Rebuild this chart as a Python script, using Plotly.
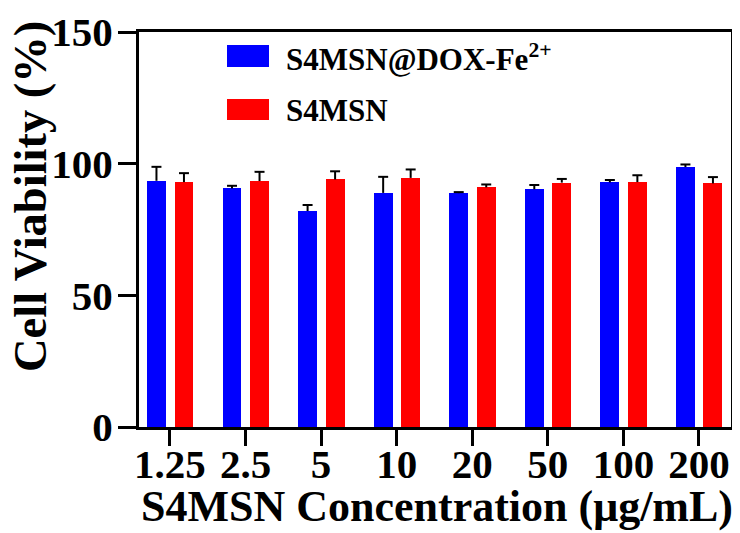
import plotly.graph_objects as go

# ---- data ----
categories = ["1.25", "2.5", "5", "10", "20", "50", "100", "200"]
dox_fe_values = [93.5, 90.6, 82.0, 88.9, 88.8, 90.3, 92.9, 98.7]
dox_fe_errors = [5.3, 1.0, 2.3, 6.1, 0.4, 1.6, 0.9, 1.0]
s4msn_values = [93.0, 93.4, 94.0, 94.6, 91.0, 92.8, 93.0, 92.5]
s4msn_errors = [3.4, 3.5, 3.1, 3.2, 1.1, 1.4, 2.6, 2.4]
series_names = ["S4MSN@DOX-Fe<sup>2+</sup>", "S4MSN"]
y_ticks = [0, 50, 100, 150]

# ---- layout geometry (page body adds an 8px offset) ----
OFF = 8
W, H = 732, 525
L, R, T, B = 131, 9, 24, 106
PW, PH = W - L - R, H - T - B
FONT = "Liberation Serif"
BLUE, RED = "#0000FF", "#FF0000"

def px_x(p):
    return (p - OFF - L) / PW

def px_y(p):
    return (H - B - (p - OFF)) / PH

idx = list(range(len(categories)))
bar_w = 0.25
shift_blue, shift_red = -0.179, 0.185
cap = 0.066

fig = go.Figure()

def add_series(values, errors, shift, color, name):
    xs = [i + shift for i in idx]
    fig.add_trace(go.Bar(x=xs, y=values, width=bar_w, marker=dict(color=color, line=dict(width=0)),
                         name=name, showlegend=False))
    ex, ey = [], []
    for x, v, e in zip(xs, values, errors):
        ex += [x, x, None, x - cap, x + cap, None]
        ey += [v, v + e, None, v + e, v + e, None]
    fig.add_trace(go.Scatter(x=ex, y=ey, mode="lines", line=dict(color="black", width=2),
                             showlegend=False, hoverinfo="skip"))

add_series(dox_fe_values, dox_fe_errors, shift_blue, BLUE, series_names[0])
add_series(s4msn_values, s4msn_errors, shift_red, RED, series_names[1])

fig.update_layout(
    width=W, height=H,
    margin=dict(l=L, r=R, t=T, b=B, autoexpand=False),
    paper_bgcolor="white", plot_bgcolor="white",
    font=dict(family=FONT, color="black"),
    showlegend=False,
    bargap=0,
)
fig.update_xaxes(
    range=[-0.41, 7.424], tickmode="array", tickvals=idx, ticktext=categories,
    showgrid=False, zeroline=False, automargin=False,
    showline=True, linecolor="black", linewidth=3, mirror=True,
    ticks="outside", ticklen=16, tickwidth=3, tickcolor="black",
    ticklabelstandoff=-17,
    tickfont=dict(family=FONT, size=41, color="black", weight="bold"),
)
fig.update_yaxes(
    range=[0, 150], tickmode="array", tickvals=y_ticks,
    showgrid=False, zeroline=False, automargin=False,
    showline=True, linecolor="black", linewidth=3, mirror=True,
    ticks="outside", ticklen=18, tickwidth=3, tickcolor="black",
    ticklabelstandoff=-3,
    tickfont=dict(family=FONT, size=41, color="black", weight="bold"),
)

# legend (drawn manually for large swatches)
legend_items = [(series_names[0], BLUE, 45, 67), (series_names[1], RED, 99, 120)]
for name, color, y0, y1 in legend_items:
    fig.add_shape(type="rect", xref="paper", yref="paper",
                  x0=px_x(227), x1=px_x(269), y0=px_y(y1), y1=px_y(y0),
                  fillcolor=color, line=dict(width=0))
    fig.add_annotation(xref="paper", yref="paper", x=px_x(284), y=px_y((y0 + y1) / 2 + 1),
                       text=name, showarrow=False, xanchor="left", yanchor="middle",
                       font=dict(family=FONT, size=31, color="black", weight="bold"))

# axis titles
fig.add_annotation(xref="paper", yref="paper", x=px_x(30), y=px_y(197),
                   text="Cell Viability (%)", textangle=-90, showarrow=False,
                   xanchor="center", yanchor="middle",
                   font=dict(family=FONT, size=46.5, color="black", weight="bold"))
fig.add_annotation(xref="paper", yref="paper", x=px_x(437), y=px_y(506),
                   text="S4MSN Concentration (μg/mL)", showarrow=False,
                   xanchor="center", yanchor="middle",
                   font=dict(family=FONT, size=44, color="black", weight="bold"))

fig.write_html("out.html")
